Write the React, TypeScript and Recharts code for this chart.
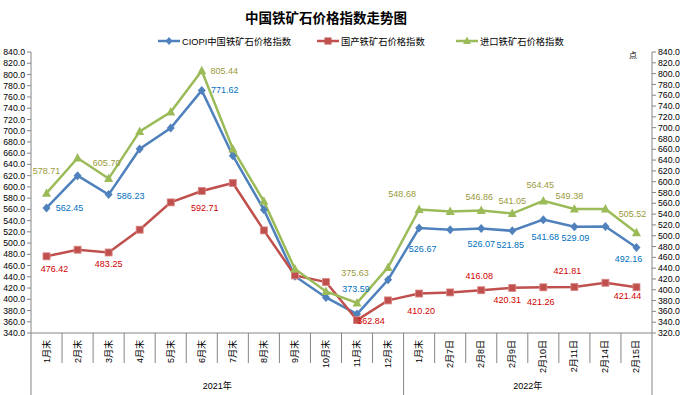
import React from "react";
import { LineChart, Line, XAxis, YAxis, LabelList } from "recharts";

const categories = [
  "1月末", "2月末", "3月末", "4月末", "5月末", "6月末", "7月末", "8月末", "9月末", "10月末", "11月末", "12月末",
  "1月末", "2月7日", "2月8日", "2月9日", "2月10日", "2月11日", "2月14日", "2月15日",
];
const years = ["2021年", "2022年"];
const yearSpans = [12, 8];

// CIOPI and domestic index sit on the left axis, imported index on the right axis
const ciopi = [562.45, 620.0, 586.23, 667.4, 704.8, 771.62, 655.5, 559.4, 441.0, 403.3, 373.59, 434.8, 526.67, 523.8, 526.07, 521.85, 541.68, 529.09, 529.5, 492.16];
const domestic = [476.42, 488.2, 483.25, 523.8, 572.4, 592.71, 606.9, 522.6, 442.5, 430.7, 362.84, 398.0, 410.2, 412.2, 416.08, 420.31, 421.26, 421.81, 429.4, 421.44];
const imported = [578.71, 643.8, 605.7, 693.1, 729.0, 805.44, 660.5, 563.6, 438.4, 397.0, 375.63, 441.4, 548.68, 545.0, 546.86, 541.05, 564.45, 549.38, 549.5, 505.52];

const leftTicks = Array.from({ length: 26 }, (_, i) => 340 + i * 20);
const rightTicks = Array.from({ length: 27 }, (_, i) => 320 + i * 20);

// label placement: index -> [dx, dy] from the point to the label centre
const ciopiLabelPos: Record<number, [number, number]> = {
  0: [23, 0], 2: [22, 1], 5: [23, 0], 10: [-1, -25], 12: [3.5, 21],
  14: [0, 16], 15: [-2, 14], 16: [2, 17], 17: [1, 11], 19: [-8, 12],
};
const domesticLabelPos: Record<number, [number, number]> = {
  0: [8, 13], 2: [0, 11.5], 5: [3, 17], 10: [14, 1], 12: [2, 17],
  14: [-2, -14], 15: [-5, 12], 16: [-2.5, 15], 17: [-7, -16.5], 19: [-9, 9],
};
const importedLabelPos: Record<number, [number, number]> = {
  0: [0, -22], 2: [-2, -16], 5: [22.5, 0], 10: [-2, -30], 12: [-17, -15],
  14: [-2, -13], 15: [0, -13], 16: [-3, -16], 17: [-5, -13], 19: [-4, -19],
};

const W = 688;
const H = 395;
const PLOT_LEFT = 31;
const PLOT_RIGHT = 652;
const PLOT_TOP = 52;
const PLOT_BOTTOM = 333;
const STEP = (PLOT_RIGHT - PLOT_LEFT) / categories.length;

const FONT = "'Liberation Sans', Arial, 'Noto Sans CJK SC', sans-serif";
const AXIS = "#868686";

const BLUE = "#4f81bd";
const RED = "#c0504d";
const GREEN = "#9bbb59";

const data = categories.map((name, i) => ({
  name,
  ciopi: ciopi[i],
  domestic: domestic[i],
  imported: imported[i],
}));

const groupStarts = yearSpans.map((_, g) => yearSpans.slice(0, g).reduce((a, b) => a + b, 0));

function CategoryTick(props: any) {
  const { x, payload } = props;
  const i = payload.index;
  const left = x - STEP / 2;
  const g = groupStarts.indexOf(i);
  const last = i === categories.length - 1;
  return (
    <g>
      <line x1={left} x2={left} y1={PLOT_BOTTOM} y2={g >= 0 ? H : PLOT_BOTTOM + 30} stroke={AXIS} />
      {last && <line x1={x + STEP / 2} x2={x + STEP / 2} y1={PLOT_BOTTOM} y2={H} stroke={AXIS} />}
      <text
        x={x}
        y={PLOT_BOTTOM + 7}
        transform={`rotate(-90, ${x}, ${PLOT_BOTTOM + 7})`}
        textAnchor="end"
        dominantBaseline="central"
        fontSize={9}
        fontFamily={FONT}
        fill="#000"
      >
        {categories[i]}
      </text>
      {g >= 0 && (
        <text
          x={left + (yearSpans[g] * STEP) / 2}
          y={386}
          textAnchor="middle"
          dominantBaseline="central"
          fontSize={9}
          fontFamily={FONT}
          fill="#000"
        >
          {years[g]}
        </text>
      )}
    </g>
  );
}

const diamondDot = (p: any) =>
  p.cx == null ? null : (
    <path
      key={p.index}
      d={`M${p.cx},${p.cy - 4.5}L${p.cx + 4},${p.cy}L${p.cx},${p.cy + 4.5}L${p.cx - 4},${p.cy}Z`}
      fill={BLUE}
    />
  );

const squareDot = (p: any) =>
  p.cx == null ? null : (
    <rect key={p.index} x={p.cx - 3.5} y={p.cy - 3.5} width={7} height={7} fill={RED} stroke="#d98886" strokeWidth={0.8} />
  );

const triangleDot = (p: any) =>
  p.cx == null ? null : (
    <path
      key={p.index}
      d={`M${p.cx},${p.cy - 5}L${p.cx + 4.5},${p.cy + 3.5}L${p.cx - 4.5},${p.cy + 3.5}Z`}
      fill={GREEN}
    />
  );

function makeLabel(pos: Record<number, [number, number]>, color: string) {
  return (p: any) => {
    const off = pos[p.index];
    if (!off || p.x == null) return null;
    return (
      <text
        key={p.index}
        x={p.x + off[0]}
        y={p.y + off[1]}
        textAnchor="middle"
        dominantBaseline="central"
        fontSize={9}
        fontFamily={FONT}
        fill={color}
      >
        {Number(p.value).toFixed(2)}
      </text>
    );
  };
}

function LegendIcon({ color, shape }: { color: string; shape: "diamond" | "square" | "triangle" }) {
  return (
    <svg width={22} height={10} style={{ display: "block" }}>
      <line x1={0} x2={22} y1={5} y2={5} stroke={color} strokeWidth={2.5} />
      {shape === "diamond" && <path d="M11,1L14.5,5L11,9L7.5,5Z" fill={color} />}
      {shape === "square" && <rect x={7.5} y={1.5} width={7} height={7} fill={color} />}
      {shape === "triangle" && <path d="M11,0.5L15,8L7,8Z" fill={color} />}
    </svg>
  );
}

const legendItems = [
  { name: "CIOPI中国铁矿石价格指数", color: BLUE, shape: "diamond" as const, left: 158 },
  { name: "国产铁矿石价格指数", color: RED, shape: "square" as const, left: 317 },
  { name: "进口铁矿石价格指数", color: GREEN, shape: "triangle" as const, left: 456 },
];

export default function App() {
  return (
    <div style={{ position: "absolute", left: 0, top: 0, width: W, height: H, background: "#fff", fontFamily: FONT }}>
      <div
        style={{
          position: "absolute",
          left: 0,
          top: 8,
          width: PLOT_RIGHT,
          textAlign: "center",
          fontSize: 13.5,
          lineHeight: "18px",
          fontWeight: 700,
          color: "#000",
          fontFamily: "'Noto Sans CJK SC', sans-serif",
        }}
      >
        中国铁矿石价格指数走势图
      </div>
      {legendItems.map((it) => (
        <div
          key={it.name}
          style={{ position: "absolute", left: it.left, top: 34, height: 14, display: "flex", alignItems: "center", gap: 2 }}
        >
          <LegendIcon color={it.color} shape={it.shape} />
          <span style={{ fontSize: 9.3, color: "#000", whiteSpace: "nowrap" }}>{it.name}</span>
        </div>
      ))}
      <div style={{ position: "absolute", left: 629, top: 49, fontSize: 8, color: "#000", fontFamily: "'Noto Sans CJK SC', sans-serif" }}>
        点
      </div>
      <LineChart width={W} height={H} data={data} margin={{ top: PLOT_TOP, right: 0, bottom: 0, left: 0 }}>
        <XAxis
          dataKey="name"
          interval={0}
          height={H - PLOT_BOTTOM}
          padding={{ left: STEP / 2, right: STEP / 2 }}
          tickLine={false}
          axisLine={{ stroke: AXIS }}
          tick={(p: any) => <CategoryTick {...p} />}
        />
        <YAxis
          yAxisId="left"
          width={PLOT_LEFT}
          domain={[340, 840]}
          ticks={leftTicks}
          interval={0}
          allowDataOverflow
          tickFormatter={(v: number) => v.toFixed(1)}
          tickSize={4}
          tickMargin={2}
          tickLine={{ stroke: AXIS }}
          axisLine={{ stroke: AXIS }}
          tick={{ fontSize: 8.7, fill: "#000", fontFamily: FONT }}
        />
        <YAxis
          yAxisId="right"
          orientation="right"
          width={W - PLOT_RIGHT}
          domain={[320, 840]}
          ticks={rightTicks}
          interval={0}
          allowDataOverflow
          tickFormatter={(v: number) => v.toFixed(1)}
          tickSize={4}
          tickMargin={2}
          tickLine={{ stroke: AXIS }}
          axisLine={{ stroke: AXIS }}
          tick={{ fontSize: 8.7, fill: "#000", fontFamily: FONT }}
        />
        <Line yAxisId="left" dataKey="ciopi" stroke={BLUE} strokeWidth={2.5} dot={diamondDot} isAnimationActive={false}>
          <LabelList dataKey="ciopi" content={makeLabel(ciopiLabelPos, "#0070c0")} />
        </Line>
        <Line yAxisId="left" dataKey="domestic" stroke={RED} strokeWidth={2.5} dot={squareDot} isAnimationActive={false}>
          <LabelList dataKey="domestic" content={makeLabel(domesticLabelPos, "#d00000")} />
        </Line>
        <Line yAxisId="right" dataKey="imported" stroke={GREEN} strokeWidth={2.5} dot={triangleDot} isAnimationActive={false}>
          <LabelList dataKey="imported" content={makeLabel(importedLabelPos, "#9a9a3c")} />
        </Line>
      </LineChart>
    </div>
  );
}
